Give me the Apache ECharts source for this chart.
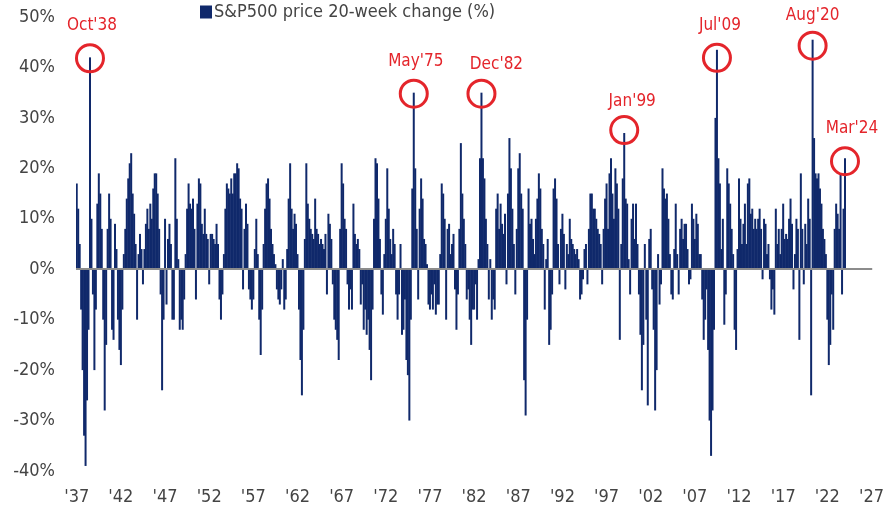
<!DOCTYPE html>
<html lang="en">
<head>
    <meta charset="UTF-8">
    <title>S&P500 price 20-week change</title>
    <script type="text/javascript" src="https://cdn.jsdelivr.net/npm/echarts@6/dist/echarts.min.js"></script>
    <style>
        html, body { margin: 0; padding: 0; background: #fff; }
        #chart { width: 887px; height: 518px; }
    </style>
</head>
<body>
<div id="chart"></div>
<script type="text/javascript">
    var v1930s = [
        17, 12, 5, -8, -20, -33,      // 1937
        -39, -26, -12, 42, 10, -5,    // 1938
        -20, -8, 13, 19, 15, 8        // 1939
    ];
    var v1940s = [
        -10, -28, -15, 8, 15, 10,
        -12, -14, 9, 4, -10, -16,
        -19, -8, 3, 8, 14, 18,
        21, 23, 15, 11, 5, -10,
        3, 7, 4, -3, 4, 9,
        12, 8, 13, 10, 16, 19,
        19, 15, 8, -5, -24, -10,
        10, -7, 6, 9, 5, -10,
        -10, 22, 10, 2, -12, -10,
        -12, -6, 3, 12, 17, 13
    ];
    var v1950s = [
        12, 14, 8, -6, 13, 18,
        17, 9, 7, 12, 7, 6,
        -3, 7, 7, 6, 5, 9,
        5, -6, -10, -5, 3, 12,
        17, 16, 15, 18, 15, 19,
        19, 21, 20, 14, 12, -4,
        8, 13, 9, -4, -6, -8,
        -6, 4, 10, 3, -10, -17,
        -8, 5, 12, 17, 18, 14,
        8, 5, 3, 1, -4, -6
    ];
    var v1960s = [
        -7, -4, 2, -8, -6, 4,
        14, 21, 12, 8, 11, 9,
        3, -8, -18, -25, -12, 6,
        21, 13, 10, 8, 7, 6,
        14, 8, 7, 5, 6, 5,
        4, 7, -5, 11, 9, 6,
        -3, -10, -12, -14, -18, 8,
        21, 17, 10, 8, -3, -8,
        -4, -8, 13, 7, 5, 6,
        4, -7, -3, -12, -8, -13
    ];
    var v1970s = [
        -10, -16, -22, -8, 10, 22,
        21, 14, 6, -5, -9, 3,
        10, 20, 12, 6, 3, 8,
        5, -5, -10, -5, 5, -13,
        -12, -6, -18, -21, -30, -10,
        16, 35, 20, 8, -6, 12,
        18, 14, 6, 5, 1, -7,
        -8, -5, -8, -3, -9, -7,
        -7, 3, 17, 15, 10, -10,
        8, 9, 3, 5, 7, -4
    ];
    var v1980s = [
        -12, -5, 8, 25, 15, 10,
        5, -6, -4, -10, -15, -8,
        -8, -3, -10, 2, 22, 35,
        22, 18, 10, 5, -6, 2,
        -10, -6, -8, 12, 15, 8,
        13, 9, 7, 11, -3, 15,
        26, 20, 12, 5, -5, 8,
        20, 23, 15, 12, -22, -29,
        -10, 16, 9, 10, 6, 3,
        10, 14, 19, 16, 8, 5
    ];
    var v1990s = [
        -8, 2, 6, -15, -12, -5,
        16, 18, 14, 5, -3, 8,
        11, 7, -4, 5, 3, 10,
        6, 5, 4, 3, 4, 2,
        -6, -5, -2, 4, 5, -3,
        8, 15, 15, 12, 12, 10,
        8, 7, 5, -3, 8, 14,
        17, 8, 19, 22, 15, 10,
        20, 17, 12, -14, 5, 18,
        27, 14, 13, 2, -5, 10
    ];
    var v2000s = [
        13, 6, 13, 5, -5, -13,
        -24, -15, 5, -10, -27, 6,
        8, -4, -12, -28, -20, 3,
        -7, -3, 20, 16, 14, 15,
        10, 3, -5, -6, 4, 13,
        3, -5, 8, 10, 6, 9,
        9, 4, -3, -2, 13, 10,
        6, 11, 9, 3, 3, -6,
        -14, -10, -4, -16, -30, -37,
        -28, -12, 30, 43.5, 22, 17
    ];
    var v2010s = [
        4, 10, -11, -5, 20, 17,
        13, 8, 3, -12, -16, 4,
        18, 10, 5, 9, 13, 5,
        17, 18, 11, 12, 8, 10,
        8, 10, 12, 8, -2, 10,
        9, 3, 5, -2, -8, -4,
        -9, 12, 5, 8, 3, 8,
        13, 6, 7, 6, 10, 14,
        9, -4, 3, 10, 8, -14,
        19, 8, -3, 9, 5, 14
    ];
    var v2020s = [
        10, -25, 45.5, 26, 19, 18,
        19, 16, 13, 8, 6, 3,
        -10, -19, -15, -5, -12, 8,
        13, 11, 8, 19, -5, 12,
        22
    ];

    var xTickLabels = ["'37", "'42", "'47", "'52", "'57", "'62", "'67", "'72", "'77", "'82",
        "'87", "'92", "'97", "'02", "'07", "'12", "'17", "'22", "'27"];

    // circled peaks
    var peakNames = ["Oct'38", "May'75", "Dec'82", "Jan'99", "Jul'09", "Aug'20", "Mar'24"];
    var peakCats = ["1938-07", "1975-03", "1982-11", "1999-01", "2009-07", "2020-05", "2024-01"];
    var peakCircleDrop = [1, 1, 1, -3, 8, 6, 3];
    var peakLabelShift = [[2, 0], [2, 0], [15, 3], [8, 4], [3, 0], [0, 2], [7, 0]];

    var values = [].concat(v1930s, v1940s, v1950s, v1960s, v1970s, v1980s, v1990s, v2000s, v2010s, v2020s);

    var categories = [];
    for (var y = 1937; y <= 2027; y++) {
        var months = ['01', '03', '05', '07', '09', '11'];
        for (var m = 0; m < months.length; m++) {
            categories.push(y + '-' + months[m]);
            if (y === 2027) break;
        }
    }

    var font = "'Liberation Sans Narrow', 'DejaVu Sans Condensed', 'Liberation Sans', sans-serif";
    var red = '#e4252b';

    var peaks = [];
    for (var i = 0; i < peakNames.length; i++) {
        var idx = categories.indexOf(peakCats[i]);
        peaks.push({
            name: peakNames[i],
            coord: [idx, values[idx]],
            symbolOffset: [0, peakCircleDrop[i]],
            label: { offset: peakLabelShift[i] }
        });
    }

    var chart = echarts.init(document.getElementById('chart'));
    var option = {
        animation: false,
        textStyle: { fontFamily: font },
        legend: {
            data: ['S&P500 price 20-week change (%)'],
            left: 200,
            top: 3,
            padding: 0,
            icon: 'rect',
            itemWidth: 12,
            itemHeight: 13,
            itemGap: 4,
            textStyle: { fontSize: 18, color: '#444', fontFamily: font, padding: [0, 0, 0, -3] }
        },
        grid: { left: 76, right: 9, top: 17, bottom: 47 },
        xAxis: {
            type: 'category',
            data: categories,
            axisLine: { show: false },
            axisTick: { show: false },
            axisLabel: {
                interval: function (index) { return index % 30 === 0; },
                formatter: function (val, index) { return xTickLabels[index / 30]; },
                fontSize: 18,
                color: '#444',
                margin: 17
            },
            splitLine: { show: false }
        },
        yAxis: {
            type: 'value',
            min: -40,
            max: 50,
            interval: 10,
            axisLine: { show: false },
            axisTick: { show: false },
            splitLine: { show: false },
            axisLabel: {
                formatter: '{value}%',
                fontSize: 18,
                color: '#444',
                margin: 21
            }
        },
        series: [{
            name: 'S&P500 price 20-week change (%)',
            type: 'bar',
            data: values,
            barWidth: 2,
            itemStyle: { color: '#10296b' },
            markLine: {
                silent: true,
                symbol: 'none',
                label: { show: false },
                lineStyle: { color: '#8c8c8c', width: 2, type: 'solid' },
                data: [{ yAxis: 0 }]
            },
            markPoint: {
                symbol: 'circle',
                symbolSize: 27,
                itemStyle: { color: 'rgba(0,0,0,0)', borderColor: red, borderWidth: 3 },
                label: {
                    show: true,
                    position: 'top',
                    distance: 9,
                    formatter: '{b}',
                    color: red,
                    fontSize: 17,
                    fontFamily: font
                },
                data: peaks
            }
        }]
    };
    chart.setOption(option);
</script>
</body>
</html>
